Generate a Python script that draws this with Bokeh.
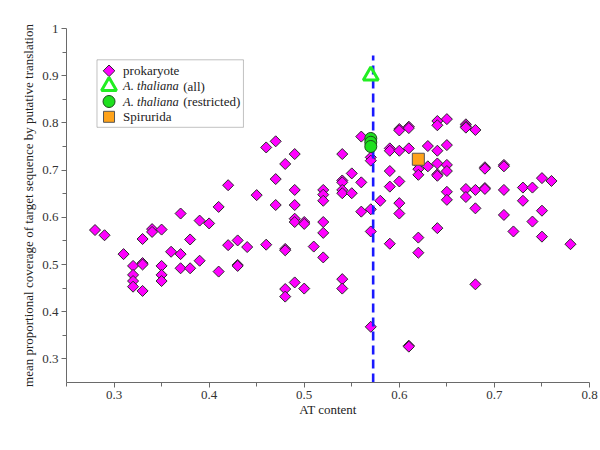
import numpy as np
from bokeh.plotting import figure
from bokeh.models import FixedTicker, BoxAnnotation, Label, Range1d
from bokeh.embed import file_html
from bokeh.resources import INLINE

# ---------------- data ----------------
prok_x = [0.28, 0.29, 0.31, 0.32, 0.32, 0.32, 0.32, 0.33, 0.33, 0.33, 0.33, 0.34, 0.34,
          0.35, 0.35, 0.35, 0.35, 0.36, 0.37, 0.37, 0.37, 0.38, 0.38, 0.39, 0.39, 0.40,
          0.41, 0.41, 0.42, 0.42, 0.43, 0.43, 0.43, 0.44, 0.45, 0.46, 0.46, 0.47, 0.47,
          0.47, 0.48, 0.48, 0.48, 0.48, 0.48, 0.49, 0.49, 0.49, 0.49, 0.49, 0.49, 0.50,
          0.50, 0.50, 0.51, 0.52, 0.52, 0.52, 0.52, 0.52, 0.52, 0.54, 0.54, 0.54, 0.54,
          0.54, 0.54, 0.54, 0.55, 0.55, 0.56, 0.56, 0.56, 0.57, 0.57, 0.57, 0.57, 0.57,
          0.58, 0.59, 0.59, 0.59, 0.59, 0.59, 0.60, 0.60, 0.60, 0.60, 0.60, 0.60, 0.61,
          0.61, 0.61, 0.61, 0.61, 0.62, 0.62, 0.62, 0.62, 0.62, 0.63, 0.63, 0.64, 0.64,
          0.64, 0.64, 0.64, 0.64, 0.64, 0.65, 0.65, 0.65, 0.65, 0.65, 0.65, 0.67, 0.67,
          0.67, 0.67, 0.67, 0.68, 0.68, 0.68, 0.68, 0.69, 0.69, 0.69, 0.69, 0.71, 0.71,
          0.71, 0.71, 0.72, 0.73, 0.73, 0.74, 0.74, 0.75, 0.75, 0.75, 0.76, 0.78]
prok_y = [0.573, 0.562, 0.522, 0.497, 0.478, 0.465, 0.453, 0.444, 0.554, 0.503, 0.500, 0.575, 0.569,
          0.574, 0.497, 0.478, 0.465, 0.527, 0.608, 0.522, 0.492, 0.553, 0.492, 0.593, 0.508, 0.587,
          0.622, 0.485, 0.668, 0.541, 0.551, 0.499, 0.497, 0.537, 0.647, 0.748, 0.542, 0.761, 0.681,
          0.626, 0.713, 0.533, 0.530, 0.448, 0.432, 0.734, 0.658, 0.626, 0.597, 0.590, 0.462, 0.590,
          0.586, 0.449, 0.538, 0.658, 0.648, 0.635, 0.590, 0.567, 0.515, 0.734, 0.678, 0.674, 0.658,
          0.651, 0.469, 0.449, 0.693, 0.651, 0.771, 0.674, 0.612, 0.727, 0.720, 0.617, 0.570, 0.368,
          0.635, 0.746, 0.741, 0.698, 0.665, 0.544, 0.787, 0.784, 0.741, 0.676, 0.630, 0.608, 0.792,
          0.789, 0.746, 0.328, 0.326, 0.713, 0.702, 0.690, 0.557, 0.525, 0.751, 0.708, 0.804, 0.795,
          0.741, 0.714, 0.691, 0.688, 0.577, 0.808, 0.753, 0.711, 0.698, 0.654, 0.637, 0.797, 0.793,
          0.790, 0.660, 0.643, 0.785, 0.658, 0.619, 0.458, 0.706, 0.703, 0.662, 0.660, 0.711, 0.708,
          0.658, 0.605, 0.570, 0.663, 0.635, 0.663, 0.591, 0.683, 0.614, 0.559, 0.677, 0.543]

athal_all_x = [0.57]
athal_all_y = [0.900]
athal_restr_x = [0.57, 0.57, 0.57]
athal_restr_y = [0.767, 0.759, 0.750]
spir_x = [0.62]
spir_y = [0.723]

vline_x = [0.5725, 0.5725]
vline_y = [0.25, 0.943]

x_ticks = [0.3, 0.4, 0.5, 0.6, 0.7, 0.8]
x_minor = [0.25, 0.35, 0.45, 0.55, 0.65, 0.75]
y_ticks = [0.3, 0.4, 0.5, 0.6, 0.7, 0.8, 0.9, 1.0]
y_minor = [0.35, 0.45, 0.55, 0.65, 0.75, 0.85, 0.95]

legend_labels = ["prokaryote", "A. thaliana", "A. thaliana", "Spirurida"]
legend_suffix = ["", "(all)", "(restricted)", ""]

FONT = '"Liberation Serif", "Times New Roman", "DejaVu Serif", serif'

# ---------------- figure ----------------
p = figure(frame_width=523, frame_height=354, output_backend="svg", toolbar_location=None,
           x_range=Range1d(0.25, 0.8), y_range=Range1d(0.25, 1.0),
           min_border_left=66, min_border_top=28, min_border_right=9, min_border_bottom=48)
p.outline_line_color = None
p.grid.visible = False
p.background_fill_color = "white"

for ax, tk, mn in ((p.xaxis[0], x_ticks, x_minor), (p.yaxis[0], y_ticks, y_minor)):
    ax.ticker = FixedTicker(ticks=tk, minor_ticks=mn)
    ax.axis_line_color = "#6a6a6a"
    ax.major_tick_line_color = "#6a6a6a"
    ax.minor_tick_line_color = "#6a6a6a"
    ax.major_tick_in = 0
    ax.major_tick_out = 5
    ax.minor_tick_in = 0
    ax.minor_tick_out = 4
    ax.major_label_standoff = 3
    ax.major_label_text_font = FONT
    ax.major_label_text_font_size = "13px"
    ax.major_label_text_color = "#333333"
    ax.axis_label_text_font = FONT
    ax.axis_label_text_font_size = "13px"
    ax.axis_label_text_font_style = "normal"
    ax.axis_label_text_color = "#222222"

p.xaxis.axis_label = "AT content"
p.xaxis.axis_label_standoff = 0
p.yaxis.axis_label = "mean proportional coverage of target sequence by putative translation"
p.yaxis.axis_label_standoff = 3
p.yaxis.major_label_overrides = {1.0: "1"}

DIAMOND = dict(marker="square", angle=np.pi / 4, fill_color="#ff00ff",
               line_color="#2a2a2a", line_width=1)
p.scatter(prok_x, prok_y, size=7.8, **DIAMOND)

p.line(vline_x, vline_y, line_color="#1a1aff", line_width=2.6, line_dash="9 5")

TRI = dict(marker="triangle", fill_color=None, line_color="#22ee22", line_width=3)
CIRC = dict(marker="circle", fill_color="#1ee01e", line_color="#1c4a1c", line_width=1)
SQ = dict(marker="square", fill_color="#ffa31a", line_color="#555555", line_width=1)

p.scatter(athal_all_x, athal_all_y, size=15, **TRI)
p.scatter(athal_restr_x, athal_restr_y, size=12, **CIRC)
p.scatter(spir_x, spir_y, size=12, **SQ)

# ---------------- legend (drawn manually for mixed italic text) ----------------
def sx(px):
    return 0.3 + (px - 114) / 948.0

def sy(py):
    return 1.0 - (py - 27.7) / 472.0

p.add_layout(BoxAnnotation(left=sx(97), right=sx(243), top=sy(59), bottom=sy(126.5),
                           fill_color="white", fill_alpha=1, line_color="#333333",
                           line_width=1, level="underlay"))
rows_py = [70, 85.3, 100.7, 116]
gx = sx(109)
p.scatter([gx], [sy(rows_py[0])], size=8.2, **DIAMOND)
p.scatter([gx], [sy(rows_py[1])], size=15, **TRI)
p.scatter([gx], [sy(rows_py[2])], size=12, **CIRC)
p.scatter([gx], [sy(rows_py[3])], size=11, **SQ)

for i, (lab, suf) in enumerate(zip(legend_labels, legend_suffix)):
    italic = suf != ""
    p.add_layout(Label(x=sx(123), y=sy(rows_py[i]), text=lab, text_baseline="middle",
                       text_font=FONT, text_font_size="12.5px" if italic else "13px",
                       text_color="#222222",
                       text_font_style="italic" if italic else "normal"))
    if italic:
        p.add_layout(Label(x=sx(183), y=sy(rows_py[i]), text=suf, text_baseline="middle",
                           text_font=FONT, text_font_size="13px", text_color="#222222"))

open("out.html", "w").write(file_html(p, INLINE))
